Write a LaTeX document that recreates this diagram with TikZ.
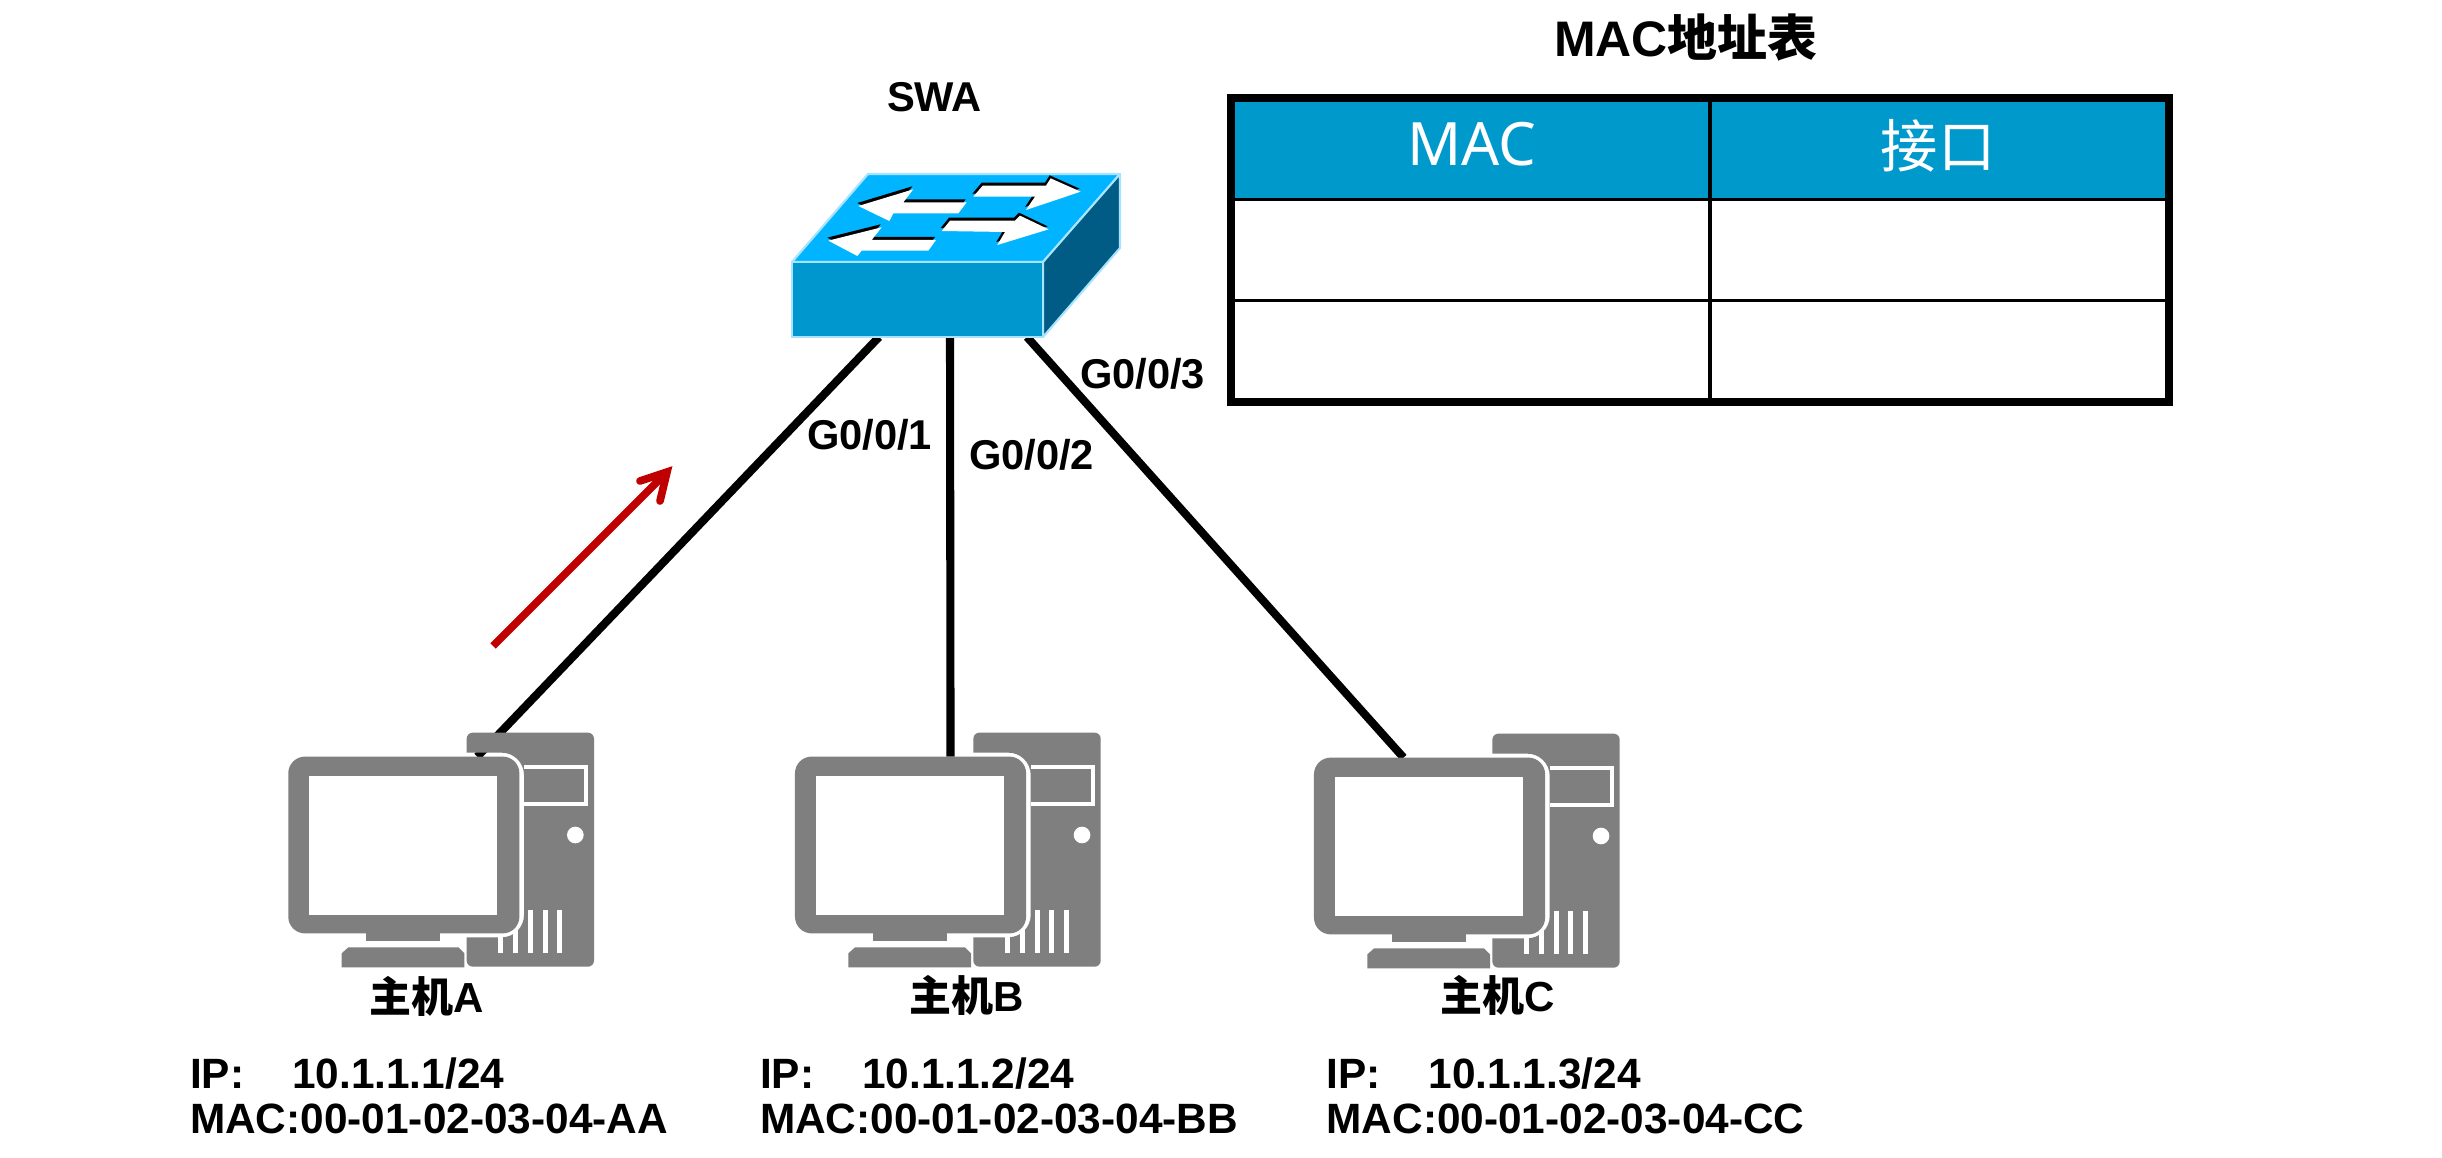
\documentclass[tikz,border=0pt]{standalone}
\usepackage{fontspec}
\setmainfont{Liberation Sans}
\newfontfamily\cjk{Noto Sans CJK SC}
\newfontfamily\headfont{Noto Sans}
\usetikzlibrary{calc}
\pgfdeclarelayer{back}
\pgfsetlayers{back,main}
\definecolor{hostgrey}{HTML}{7F7F7F}
\definecolor{swtop}{HTML}{00B4FF}
\definecolor{swfront}{HTML}{0097CE}
\definecolor{swside}{HTML}{005C85}
\definecolor{swedge}{HTML}{A8E4FF}
\definecolor{headblue}{HTML}{0099CC}
\definecolor{flowred}{HTML}{C00000}
\tikzset{
  x=0.01cm, y=-0.01cm,
  link/.style={line width=2.3pt, black},
  swface/.style={draw=swedge, line width=0.6pt, line join=round},
  lbl/.style={anchor=base west, inner sep=0pt, outer sep=0pt, font=\fontsize{12.05}{14}\selectfont\bfseries, text=black},
  hostlbl/.style={anchor=base, inner sep=0pt, outer sep=0pt, font=\fontsize{11.95}{14}\selectfont\bfseries, text=black},
  portlbl/.style={anchor=base west, inner sep=0pt, outer sep=0pt, font=\fontsize{11.85}{14}\selectfont\bfseries, text=black},
  thead/.style={anchor=center, inner sep=0pt, outer sep=0pt, text=white},
  rowline/.style={line width=0.95pt, black},
  frameline/.style={line width=2.2pt, black},
  flow/.style={line width=2.2pt, flowred},
}
% One desktop computer: tower with a cut-out around the monitor, monitor, stand
\newcommand{\hostpc}[3]{%
  \begin{scope}[shift={(#1,#2)}, shift={(270,710)}, scale=0.33333]
    \fill[hostgrey] (590,125) [rounded corners=0.06cm] -- (590,68) -- (972,68) -- (972,770) -- (590,770) [sharp corners] -- (590,682)
      -- (695,682) arc[start angle=90, end angle=0, radius=67] -- (762,195)
      arc[start angle=0, end angle=-90, radius=67] -- (590,128) -- cycle;
    \fill[white] (762,165) rectangle (955,288);
    \fill[hostgrey] (762,178) rectangle (942,275);
    \fill[white] (916,375) circle[radius=25];
    \foreach \vx in {685,730,775,818,862} {
      \fill[white] (\vx,600) rectangle ++(15,130);
    }
    \node[fill=hostgrey, rounded corners=0.167cm, inner sep=0pt, outer sep=0pt,
          minimum width=2.31cm, minimum height=1.767cm] (#3) at (401.5,405) {};
    \fill[white] (117,197) rectangle (682,615);
    \fill[hostgrey] (289,668) rectangle (510,692);
    \fill[hostgrey] (215,772) -- (215,730) -- (235,712) -- (565,712) -- (583,730) -- (583,772) -- cycle;
  \end{scope}}
% A direction arrow on the switch's top face, with its dark edge
\newcommand{\facearrow}[1]{%
  \fill[black, shift={(-3,-9)}] #1 -- cycle;
  \fill[white] #1 -- cycle;}
\begin{document}
\begin{tikzpicture}
\useasboundingbox (0,0) rectangle (2442,1158);
\begin{pgfonlayer}{back}
  \fill[white] (0,0) rectangle (2442,1158);
\end{pgfonlayer}

% Computers
\hostpc{0}{0}{hosta}
\hostpc{506.7}{0}{hostb}
\hostpc{1025.7}{1}{hostc}

% Switch
\path[fill=swtop, swface] (792,262) -- (868,174) -- (1120,174) -- (1043,262) -- cycle;
\path[fill=swside, swface] (1043,262) -- (1120,174) -- (1120,248) -- (1043,337) -- cycle;
\node[fill=swfront, draw=swedge, line width=0.6pt, inner sep=0pt, outer sep=0pt,
      minimum width=2.51cm, minimum height=0.75cm] (swa) at (917.5,299.5) {};
\begin{scope}[shift={(760,150)}, scale=0.33333]
  \facearrow{(295,168) -- (460,118) -- (430,157) -- (620,157) -- (595,190) -- (400,190) -- (388,213)}
  \facearrow{(640,140) -- (668,107) -- (858,107) -- (872,85) -- (962,125) -- (798,180) -- (825,140)}
  \facearrow{(205,272) -- (365,232) -- (335,270) -- (528,270) -- (505,302) -- (305,302) -- (292,318)}
  \facearrow{(545,243) -- (570,212) -- (765,212) -- (780,197) -- (866,238) -- (712,285) -- (735,246)}
\end{scope}

% Links run behind the computers and the switch
\begin{pgfonlayer}{back}
  \draw[link] ($(swa.south)+(-38.5,0)$) -- ($(hosta.north)+(73.5,0)$);
  \draw[link] ($(swa.south)+(32.5,0)$) -- ($(hostb.north)+(40,0)$);
  \draw[link] ($(swa.south)+(109.5,0)$) -- ($(hostc.north)+(-26,0)$);
\end{pgfonlayer}

% Traffic direction arrow
\coordinate (flowtail) at (493,646);
\coordinate (flowtip) at (667,472);
\coordinate (barbl) at (640,481);
\coordinate (barbr) at (660,501);
\draw[flow] (flowtail) -- (flowtip);
\draw[flow, line cap=round, miter limit=10] (barbl) -- (flowtip) -- (barbr);

% Device and port labels
\node[portlbl] (lswa) at (887,112) {SWA};
\node[portlbl] (p1) at (807,449) {G0/0/1};
\node[portlbl] (p2) at (969,469) {G0/0/2};
\node[portlbl] (p3) at (1080,389) {G0/0/3};

\node[hostlbl] (na) at (427,1012) {{\cjk 主机}A};
\node[hostlbl] (nb) at (966.5,1011) {{\cjk 主机}B};
\node[hostlbl] (nc) at (1498,1011) {{\cjk 主机}C};

\node[lbl] (ipa) at (190,1088) {IP:\hspace{0.48cm}10.1.1.1/24};
\node[lbl] (maca) at (190,1133) {MAC:00-01-02-03-04-AA};
\node[lbl] (ipb) at (760,1088) {IP:\hspace{0.48cm}10.1.1.2/24};
\node[lbl] (macb) at (760,1133) {MAC:00-01-02-03-04-BB};
\node[lbl] (ipc) at (1326.5,1088) {IP:\hspace{0.48cm}10.1.1.3/24};
\node[lbl] (macc) at (1326.5,1133) {MAC:00-01-02-03-04-CC};

% MAC address table
\node[anchor=base, inner sep=0pt, font=\fontsize{14.2}{16}\selectfont\bfseries] (ttitle) at (1686,57) {MAC{\cjk 地址表}};
\fill[headblue] (1231,98) rectangle (2169,199);
\draw[rowline] (1231,199.5) -- (2169,199.5);
\draw[rowline] (1231,300.5) -- (2169,300.5);
\draw[rowline] (1710,98) -- (1710,402);
\draw[frameline] (1231,98) rectangle (2169,402);
\node[thead, font=\fontsize{17}{18}\selectfont\headfont] (hmac) at (1472,144.5) {MAC};
\node[thead, font=\fontsize{16.3}{18}\selectfont\cjk] (hport) at (1938,146) {接口};
\end{tikzpicture}
\end{document}
